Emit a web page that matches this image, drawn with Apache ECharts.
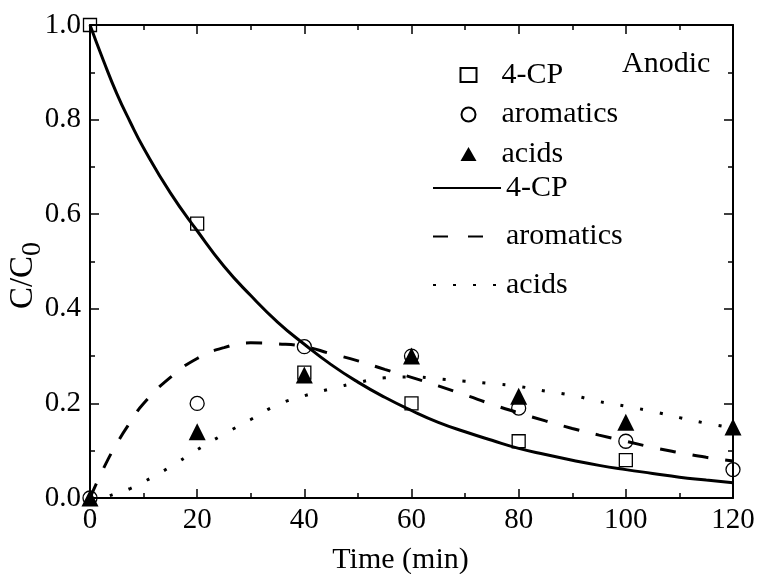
<!DOCTYPE html>
<html>
<head>
<meta charset="utf-8">
<script src="https://cdn.jsdelivr.net/npm/echarts@6/dist/echarts.min.js"></script>
<style>
  html, body { margin: 0; padding: 0; background: #fff; }
  #grafico { width: 757px; height: 574px; }
</style>
</head>
<body>
<div id="grafico"></div>
<script>
// measured points
const tempos = [0, 20, 40, 60, 80, 100, 120]
const cpMedido = [1.0, 0.58, 0.265, 0.20, 0.12, 0.08, null]
const aromMedido = [0, 0.20, 0.32, 0.30, 0.19, 0.12, 0.06]
const acidMedido = [0, 0.14, 0.26, 0.30, 0.215, 0.16, 0.15]

// model curves
const temposCurva = [0, 2.5, 5, 7.5, 10, 15, 20, 25, 30, 35, 40, 45, 50, 55, 60, 65, 70, 75, 80, 85, 90, 95, 100, 105, 110, 115, 120]
const cpCurva = [1.0, 0.925, 0.855, 0.795, 0.74, 0.645, 0.565, 0.49, 0.428, 0.372, 0.325, 0.282, 0.245, 0.213, 0.185, 0.16, 0.14, 0.122, 0.105, 0.092, 0.08, 0.069, 0.06, 0.052, 0.044, 0.038, 0.032]
const aromCurva = [0, 0.062, 0.115, 0.16, 0.20, 0.255, 0.295, 0.318, 0.328, 0.326, 0.32, 0.305, 0.29, 0.272, 0.255, 0.237, 0.218, 0.198, 0.18, 0.163, 0.147, 0.133, 0.12, 0.107, 0.096, 0.086, 0.078]
const acidCurva = [0, 0.002, 0.01, 0.02, 0.034, 0.066, 0.102, 0.135, 0.166, 0.197, 0.216, 0.231, 0.244, 0.254, 0.256, 0.252, 0.247, 0.242, 0.236, 0.226, 0.217, 0.204, 0.194, 0.183, 0.17, 0.158, 0.148]

const nomes = {
  cpPts: "4-CP", aromPts: "aromatics", acidPts: "acids",
  cpFit: "4-CP", aromFit: "aromatics", acidFit: "acids"
}

const fonte = "Liberation Serif, Times New Roman, serif"

function juntar(xs, ys) {
  let saida = []
  xs.forEach((x, i) => { if (ys[i] !== null) saida.push([x, ys[i]]) })
  return saida
}

let myChart = echarts.init(document.getElementById("grafico"))

let eixoX = (pos, mostrarLabel) => ({
  type: "value",
  position: pos,
  min: 0,
  max: 120,
  interval: 20,
  axisLine: { show: true, onZero: false, lineStyle: { color: "#000", width: 2 } },
  axisTick: { show: true, inside: true, length: 9, lineStyle: { color: "#000", width: 1.5 } },
  minorTick: { show: true, splitNumber: 2, length: 5, lineStyle: { color: "#000", width: 1.5 } },
  splitLine: { show: false },
  axisLabel: {
    show: mostrarLabel,
    color: "#000",
    fontFamily: fonte,
    fontSize: 29,
    margin: 8
  }
})

let eixoY = (pos, mostrarLabel) => ({
  type: "value",
  position: pos,
  min: 0,
  max: 1.0,
  interval: 0.2,
  axisLine: { show: true, onZero: false, lineStyle: { color: "#000", width: 2 } },
  axisTick: { show: true, inside: true, length: 9, lineStyle: { color: "#000", width: 1.5 } },
  minorTick: { show: true, splitNumber: 2, length: 5, lineStyle: { color: "#000", width: 1.5 } },
  splitLine: { show: false },
  axisLabel: {
    show: mostrarLabel,
    color: "#000",
    fontFamily: fonte,
    fontSize: 29,
    margin: 9,
    formatter: (v) => v.toFixed(1)
  }
})

let xBaixo = eixoX("bottom", true)
xBaixo.name = "Time (min)"
xBaixo.nameLocation = "middle"
xBaixo.nameGap = 47
xBaixo.nameTextStyle = { color: "#000", fontFamily: fonte, fontSize: 30, padding: [0, 22, 0, 0] }

// subscript: the "0" is pushed down by its top padding
let yEsq = eixoY("left", true)
yEsq.name = "{a|C/C}{b|0}"
yEsq.nameLocation = "middle"
yEsq.nameGap = 50
yEsq.nameMoveOverlap = false
yEsq.nameTextStyle = {
  color: "#000",
  padding: [0, 28, 0, 0],
  rich: {
    a: { fontFamily: fonte, fontSize: 33, color: "#000", lineHeight: 33 },
    b: { fontFamily: fonte, fontSize: 28, color: "#000", lineHeight: 28, padding: [18, 0, 0, 0] }
  }
}

let option = {
  animation: false,
  backgroundColor: "#fff",
  title: {
    text: "Anodic",
    left: 617,
    top: 44,
    textStyle: { fontFamily: fonte, fontSize: 30, fontWeight: "normal", color: "#000" }
  },
  grid: { left: 90, right: 24, top: 25, bottom: 76, containLabel: false, outerBoundsMode: "none" },
  xAxis: [xBaixo, eixoX("top", false)],
  yAxis: [yEsq, eixoY("right", false)],
  legend: [
    {
      data: ["cpPts", "aromPts", "acidPts"],
      orient: "vertical",
      left: 453,
      top: 55,
      itemWidth: 16,
      itemHeight: 14,
      itemGap: 9.5,
      formatter: (n) => nomes[n],
      textStyle: { fontFamily: fonte, fontSize: 30, color: "#000", lineHeight: 28, padding: [0, 0, 0, 20] }
    },
    {
      data: [
        "cpFit",
        { name: "aromFit", lineStyle: { type: [15, 20] } },
        "acidFit"
      ],
      orient: "vertical",
      left: 427,
      top: 168,
      itemWidth: 68,
      itemHeight: 14,
      itemGap: 18.5,
      itemStyle: { opacity: 0 },
      formatter: (n) => nomes[n],
      textStyle: { fontFamily: fonte, fontSize: 30, color: "#000", lineHeight: 28 }
    }
  ],
  series: [
    {
      name: "cpPts",
      type: "scatter",
      data: juntar(tempos, cpMedido),
      symbol: "rect",
      symbolSize: 13,
      itemStyle: { color: "none", borderColor: "#000", borderWidth: 1.3, opacity: 1 }
    },
    {
      name: "aromPts",
      type: "scatter",
      data: juntar(tempos, aromMedido),
      symbol: "circle",
      symbolSize: 14,
      itemStyle: { color: "none", borderColor: "#000", borderWidth: 1.3, opacity: 1 }
    },
    {
      name: "acidPts",
      type: "scatter",
      data: juntar(tempos, acidMedido),
      symbol: "triangle",
      symbolSize: 17,
      itemStyle: { color: "#000", opacity: 1 }
    },
    {
      name: "cpFit",
      type: "line",
      data: juntar(temposCurva, cpCurva),
      smooth: true,
      symbol: "none",
      itemStyle: { color: "#000" },
      lineStyle: { color: "#000", width: 3 }
    },
    {
      name: "aromFit",
      type: "line",
      data: juntar(temposCurva, aromCurva),
      smooth: true,
      symbol: "none",
      itemStyle: { color: "#000" },
      lineStyle: { color: "#000", width: 3, type: [16, 17] }
    },
    {
      name: "acidFit",
      type: "line",
      data: juntar(temposCurva, acidCurva),
      smooth: true,
      symbol: "none",
      itemStyle: { color: "#000" },
      lineStyle: { color: "#000", width: 3, type: [3, 17] }
    }
  ]
}

option && myChart.setOption(option)
</script>
</body>
</html>
